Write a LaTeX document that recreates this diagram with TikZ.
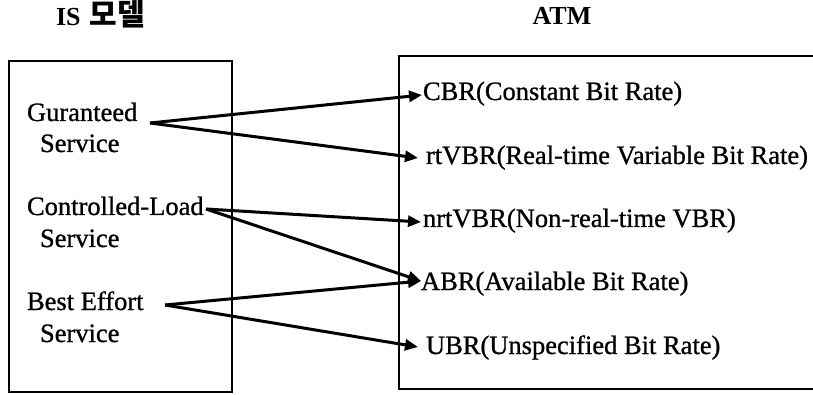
\documentclass[tikz,border=0pt]{standalone}
\usepackage{fontspec}
\setmainfont{Liberation Serif}
\newfontfamily\scanfont[FakeBold=0.9]{Liberation Serif}
\newfontfamily\krfont{Noto Sans CJK KR}
\usetikzlibrary{arrows.meta}
\tikzset{
  every node/.style={inner sep=0pt, outer sep=0pt},
  lbl/.style={anchor=base west, font=\fontsize{26.5}{30}\selectfont\scanfont},
  ttl/.style={anchor=base west, font=\fontsize{26}{28}\selectfont\bfseries},
  frame/.style={line width=2.2pt},
  link/.style={line width=3pt, -{Triangle[length=13pt,width=11pt]}},
}
\begin{document}
\begin{tikzpicture}[x=1pt,y=-1pt]
\useasboundingbox (0,0) rectangle (813,395);

% column headings
\node[ttl] (istitle) at (56,26) {IS\hspace{9pt}{\krfont\bfseries\fontsize{30}{30}\selectfont 모델}};
\node[ttl, anchor=base] (atmtitle) at (562,25) {ATM};

% frames
\draw[frame] (9,61) rectangle (232,392);
\draw[frame] (813,56) -- (399,56) -- (399,389) -- (813,389);

% IS service classes
\node[lbl] (gs1) at (27,121) {Guranteed};
\node[lbl] (gs2) at (40,152) {Service};
\node[lbl] (cl1) at (27,215) {Controlled-Load};
\node[lbl] (cl2) at (40,247) {Service};
\node[lbl] (be1) at (27,310) {Best Effort};
\node[lbl] (be2) at (40,342) {Service};

% ATM service categories
\node[lbl] (cbr) at (423,100) {CBR(Constant Bit Rate)};
\node[lbl] (rtvbr) at (426,164) {rtVBR(Real-time Variable Bit Rate)};
\node[lbl] (nrtvbr) at (423,227) {nrtVBR(Non-real-time VBR)};
\node[lbl] (abr) at (421,290) {ABR(Available Bit Rate)};
\node[lbl] (ubr) at (426,354) {UBR(Unspecified Bit Rate)};

% connector ends
\coordinate (gsout) at (150,123);
\coordinate (clout) at (206,209);
\coordinate (beout) at (165,305);
\coordinate (cbrin) at (422,95);
\coordinate (rtin) at (418,158);
\coordinate (nrtin) at (421,222);
\coordinate (abrin) at (421,281);
\coordinate (ubrin) at (418,347);

% mappings
\draw[link] (gsout) -- (cbrin);
\draw[link] (gsout) -- (rtin);
\draw[link] (clout) -- (nrtin);
\draw[link] (clout) -- (abrin);
\draw[link] (beout) -- (abrin);
\draw[link] (beout) -- (ubrin);
\end{tikzpicture}
\end{document}
